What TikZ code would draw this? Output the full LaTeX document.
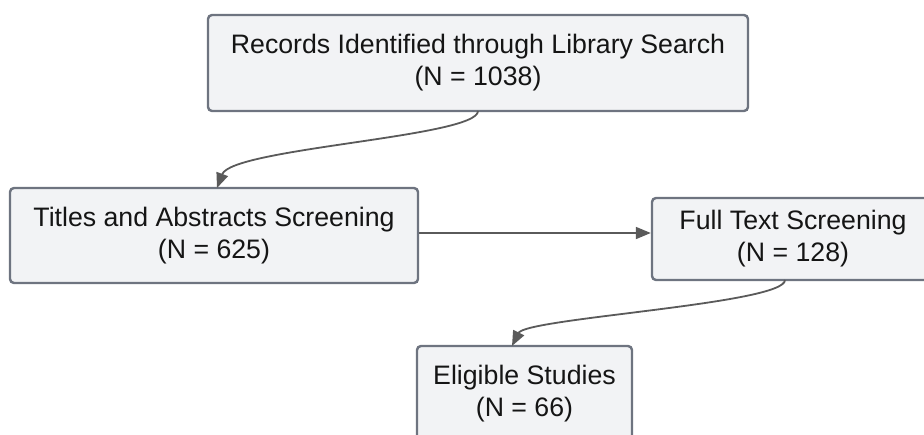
\documentclass[tikz,border=0pt]{standalone}
\usepackage{fontspec}
\setmainfont{Liberation Sans}
\usetikzlibrary{arrows.meta}
\definecolor{boxfill}{HTML}{F2F3F5}
\definecolor{boxline}{HTML}{6E7480}
\definecolor{arrowc}{HTML}{5A5A5A}
\definecolor{txt}{HTML}{151515}
\tikzset{
  flowbox/.style={draw=boxline, fill=boxfill, line width=2.4pt, rounded corners=4pt,
    align=center, inner sep=0pt, text=txt, font=\fontsize{26.7}{32}\selectfont},
  flowarrow/.style={draw=arrowc, line width=1.8pt,
    -{Triangle[length=15pt,width=12pt]}}
}
\begin{document}
\begin{tikzpicture}[x=1pt,y=-1pt]
\useasboundingbox (0,0) rectangle (924,434);
\node[flowbox, minimum width=540pt, minimum height=96pt] (rec) at (478,63)
  {Records Identified through Library Search\\(N = 1038)};
\node[flowbox, minimum width=408pt, minimum height=95pt] (tas) at (214,235.5)
  {Titles and Abstracts Screening\\(N = 625)};
\node[flowbox, minimum width=282pt, minimum height=82pt] (fts) at (793,239)
  {Full Text Screening\\(N = 128)};
\node[flowbox, minimum width=215pt, minimum height=96pt] (eli) at (524.5,394)
  {Eligible Studies\\(N = 66)};
\coordinate (a1) at (478,111);
\coordinate (a2) at (217,188);
\draw[flowarrow] (a1) .. controls (478,137) and (232,148) .. (a2);
\draw[flowarrow] (tas.east |- 0,233) -- (fts.west |- 0,233);
\coordinate (b1) at (785,280);
\coordinate (b2) at (512,346);
\draw[flowarrow] (b1) .. controls (785,304) and (526,318) .. (b2);
\end{tikzpicture}
\end{document}
